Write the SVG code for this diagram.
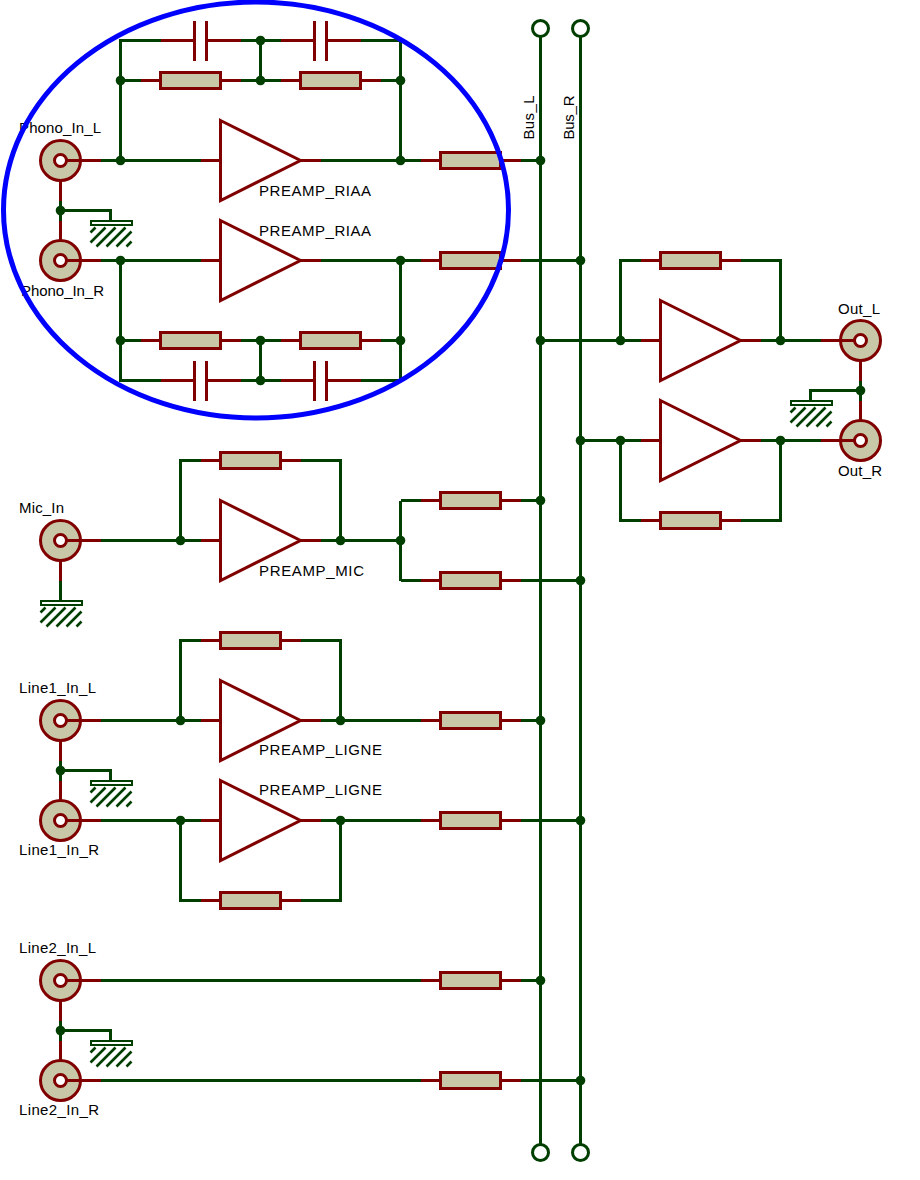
<svg xmlns="http://www.w3.org/2000/svg" xmlns:xlink="http://www.w3.org/1999/xlink" width="920" height="1180" viewBox="0 0 920 1180">
<style>
.w,.r,rect{shape-rendering:crispEdges}
.w{fill:none;stroke:#003f00;stroke-width:3}
.r{fill:none;stroke:#800000;stroke-width:3}
.b{fill:#c8c8a8;stroke:#800000;stroke-width:3}
.a{fill:#fff;stroke:#800000;stroke-width:3}
.i{fill:#fff;stroke:#800000;stroke-width:3}
.g{fill:none;stroke:#003f00;stroke-width:2}
.h{fill:none;stroke:#003f00;stroke-width:2.6}
.j{fill:#003f00}
.t{font-family:"Liberation Sans",Arial,sans-serif;font-size:15px;fill:#000}
.p{fill:#fff;stroke:#003f00;stroke-width:3}
</style>
<defs>
<g id="res"><path class="r" d="M-50 0H-30M30 0H50"/><rect class="b" x="-30" y="-8" width="60" height="16"/></g>
<g id="cap"><path class="r" d="M-40 0H-6M6 0H40M-6 -20V20M6 -20V20"/></g>
<g id="amp"><path class="r" d="M-20 0H0M80 0H100"/><path class="a" d="M0 -40L80 0L0 40Z"/></g>
<g id="connL"><circle class="b" r="20"/><path class="r" d="M6 0H40"/><circle class="i" r="6"/></g>
<g id="connR"><circle class="b" r="20"/><path class="r" d="M-6 0H-40"/><circle class="i" r="6"/></g>
<g id="gnd"><rect class="g" x="-20" y="0" width="41" height="4"/><path class="h" d="M-15 7L-20 12M-5 7L-20 22M5 7L-14 26M15 7L-4 26M21 11L6 26M21 21L16 26"/></g>
<circle id="dot" class="j" r="4.8"/>
</defs>
<g transform="translate(.5 .5)">
<g id="connectors">
<path class="w" d="M100 160H200M120 160V40H160M240 40H280M360 40H400V160M260 40V80M120 80H140M240 80H280M380 80H400M320 160H420M520 160H540"/>
<path class="w" d="M100 260H200M120 260V380H160M240 380H280M360 380H400V260M260 340V380M120 340H140M240 340H280M380 340H400M320 260H420M520 260H580"/>
<path class="w" d="M60 200V220M60 210H110V220"/>
<path class="r" d="M60 180V200M60 220V240"/>
<path class="w" d="M540 36V1144M580 36V1144"/>
<path class="w" d="M540 340H640M620 340V260H640M740 260H780V340M760 340H820M580 440H640M620 440V520H640M740 520H780V440M760 440H820"/>
<path class="w" d="M860 380V400M860 390H810V400"/>
<path class="r" d="M860 360V380M860 400V420"/>
<path class="w" d="M60 580V600M100 540H200M180 540V460H200M300 460H340V540M320 540H400M400 500V580M400 500H420M400 580H420M520 500H540M520 580H580"/>
<path class="r" d="M60 560V580"/>
<path class="w" d="M100 720H200M180 720V640H200M300 640H340V720M320 720H420M520 720H540M100 820H200M180 820V900H200M300 900H340V820M320 820H420M520 820H580M60 760V780M60 770H110V780"/>
<path class="r" d="M60 740V760M60 780V800"/>
<path class="w" d="M100 980H420M520 980H540M100 1080H420M520 1080H580M60 1020V1040M60 1030H110V1040"/>
<path class="r" d="M60 1000V1020M60 1040V1060"/>
<g id="junctions">
<use href="#dot" x="120" y="80"/><use href="#dot" x="120" y="160"/><use href="#dot" x="260" y="40"/><use href="#dot" x="260" y="80"/><use href="#dot" x="400" y="80"/><use href="#dot" x="400" y="160"/><use href="#dot" x="540" y="160"/>
<use href="#dot" x="60" y="210"/>
<use href="#dot" x="120" y="260"/><use href="#dot" x="120" y="340"/><use href="#dot" x="260" y="340"/><use href="#dot" x="260" y="380"/><use href="#dot" x="400" y="260"/><use href="#dot" x="400" y="340"/><use href="#dot" x="580" y="260"/>
<use href="#dot" x="540" y="340"/><use href="#dot" x="620" y="340"/><use href="#dot" x="780" y="340"/><use href="#dot" x="580" y="440"/><use href="#dot" x="620" y="440"/><use href="#dot" x="780" y="440"/><use href="#dot" x="860" y="390"/>
<use href="#dot" x="180" y="540"/><use href="#dot" x="340" y="540"/><use href="#dot" x="400" y="540"/><use href="#dot" x="540" y="500"/><use href="#dot" x="580" y="580"/>
<use href="#dot" x="180" y="720"/><use href="#dot" x="340" y="720"/><use href="#dot" x="540" y="720"/><use href="#dot" x="60" y="770"/><use href="#dot" x="180" y="820"/><use href="#dot" x="340" y="820"/><use href="#dot" x="580" y="820"/>
<use href="#dot" x="540" y="980"/><use href="#dot" x="60" y="1030"/><use href="#dot" x="580" y="1080"/>
</g>
</g>
<g id="Phono_In_L"><use href="#connL" x="60" y="160"/><text class="t" x="18.5" y="132" textLength="82">Phono_In_L</text></g>
<g id="Phono_In_R"><use href="#connL" x="60" y="260"/><text class="t" x="20.5" y="295" textLength="83">Phono_In_R</text></g>
<g id="gnd_phono"><use href="#gnd" x="110" y="220"/></g>
<g id="C1"><use href="#cap" x="200" y="40"/></g>
<g id="C2"><use href="#cap" x="320" y="40"/></g>
<g id="R1"><use href="#res" x="190" y="80"/></g>
<g id="R2"><use href="#res" x="330" y="80"/></g>
<g id="U1"><use href="#amp" x="220" y="160"/><text class="t" x="258.5" y="195" textLength="112">PREAMP_RIAA</text></g>
<g id="R3"><use href="#res" x="470" y="160"/></g>
<g id="U2"><use href="#amp" x="220" y="260"/><text class="t" x="258.5" y="235" textLength="112">PREAMP_RIAA</text></g>
<g id="R4"><use href="#res" x="470" y="260"/></g>
<g id="R5"><use href="#res" x="190" y="340"/></g>
<g id="R6"><use href="#res" x="330" y="340"/></g>
<g id="C3"><use href="#cap" x="200" y="380"/></g>
<g id="C4"><use href="#cap" x="320" y="380"/></g>
<g id="Bus_L"><circle class="p" cx="540" cy="28" r="8"/><circle class="p" cx="540" cy="1152" r="8"/><text class="t" transform="translate(533 139) rotate(-90)" textLength="44">Bus_L</text></g>
<g id="Bus_R"><circle class="p" cx="580" cy="28" r="8"/><circle class="p" cx="580" cy="1152" r="8"/><text class="t" transform="translate(573 139) rotate(-90)" textLength="44">Bus_R</text></g>
<g id="R7"><use href="#res" x="690" y="260"/></g>
<g id="U3"><use href="#amp" x="660" y="340"/></g>
<g id="U4"><use href="#amp" x="660" y="440"/></g>
<g id="R8"><use href="#res" x="690" y="520"/></g>
<g id="Out_L"><use href="#connR" x="860" y="340"/><text class="t" x="837.5" y="313" textLength="42">Out_L</text></g>
<g id="Out_R"><use href="#connR" x="860" y="440"/><text class="t" x="837.5" y="475" textLength="44">Out_R</text></g>
<g id="gnd_out"><use href="#gnd" x="810" y="400"/></g>
<g id="Mic_In"><use href="#connL" x="60" y="540"/><text class="t" x="18.5" y="512" textLength="45">Mic_In</text></g>
<g id="gnd_mic"><use href="#gnd" x="60" y="600"/></g>
<g id="R9"><use href="#res" x="250" y="460"/></g>
<g id="U5"><use href="#amp" x="220" y="540"/><text class="t" x="258.5" y="575" textLength="105">PREAMP_MIC</text></g>
<g id="R10"><use href="#res" x="470" y="500"/></g>
<g id="R11"><use href="#res" x="470" y="580"/></g>
<g id="Line1_In_L"><use href="#connL" x="60" y="720"/><text class="t" x="18.5" y="692" textLength="77">Line1_In_L</text></g>
<g id="Line1_In_R"><use href="#connL" x="60" y="820"/><text class="t" x="18.5" y="854" textLength="80">Line1_In_R</text></g>
<g id="gnd_line1"><use href="#gnd" x="110" y="780"/></g>
<g id="R12"><use href="#res" x="250" y="640"/></g>
<g id="U6"><use href="#amp" x="220" y="720"/><text class="t" x="258.5" y="754" textLength="123">PREAMP_LIGNE</text></g>
<g id="R13"><use href="#res" x="470" y="720"/></g>
<g id="U7"><use href="#amp" x="220" y="820"/><text class="t" x="258.5" y="794" textLength="123">PREAMP_LIGNE</text></g>
<g id="R14"><use href="#res" x="470" y="820"/></g>
<g id="R15"><use href="#res" x="250" y="900"/></g>
<g id="Line2_In_L"><use href="#connL" x="60" y="980"/><text class="t" x="18.5" y="952" textLength="77">Line2_In_L</text></g>
<g id="Line2_In_R"><use href="#connL" x="60" y="1080"/><text class="t" x="18.5" y="1114" textLength="80">Line2_In_R</text></g>
<g id="gnd_line2"><use href="#gnd" x="110" y="1040"/></g>
<g id="R16"><use href="#res" x="470" y="980"/></g>
<g id="R17"><use href="#res" x="470" y="1080"/></g>
<ellipse id="highlight" cx="255.5" cy="209.5" rx="252.5" ry="208" fill="none" stroke="#0000ff" stroke-width="5"/>
</g>
</svg>
